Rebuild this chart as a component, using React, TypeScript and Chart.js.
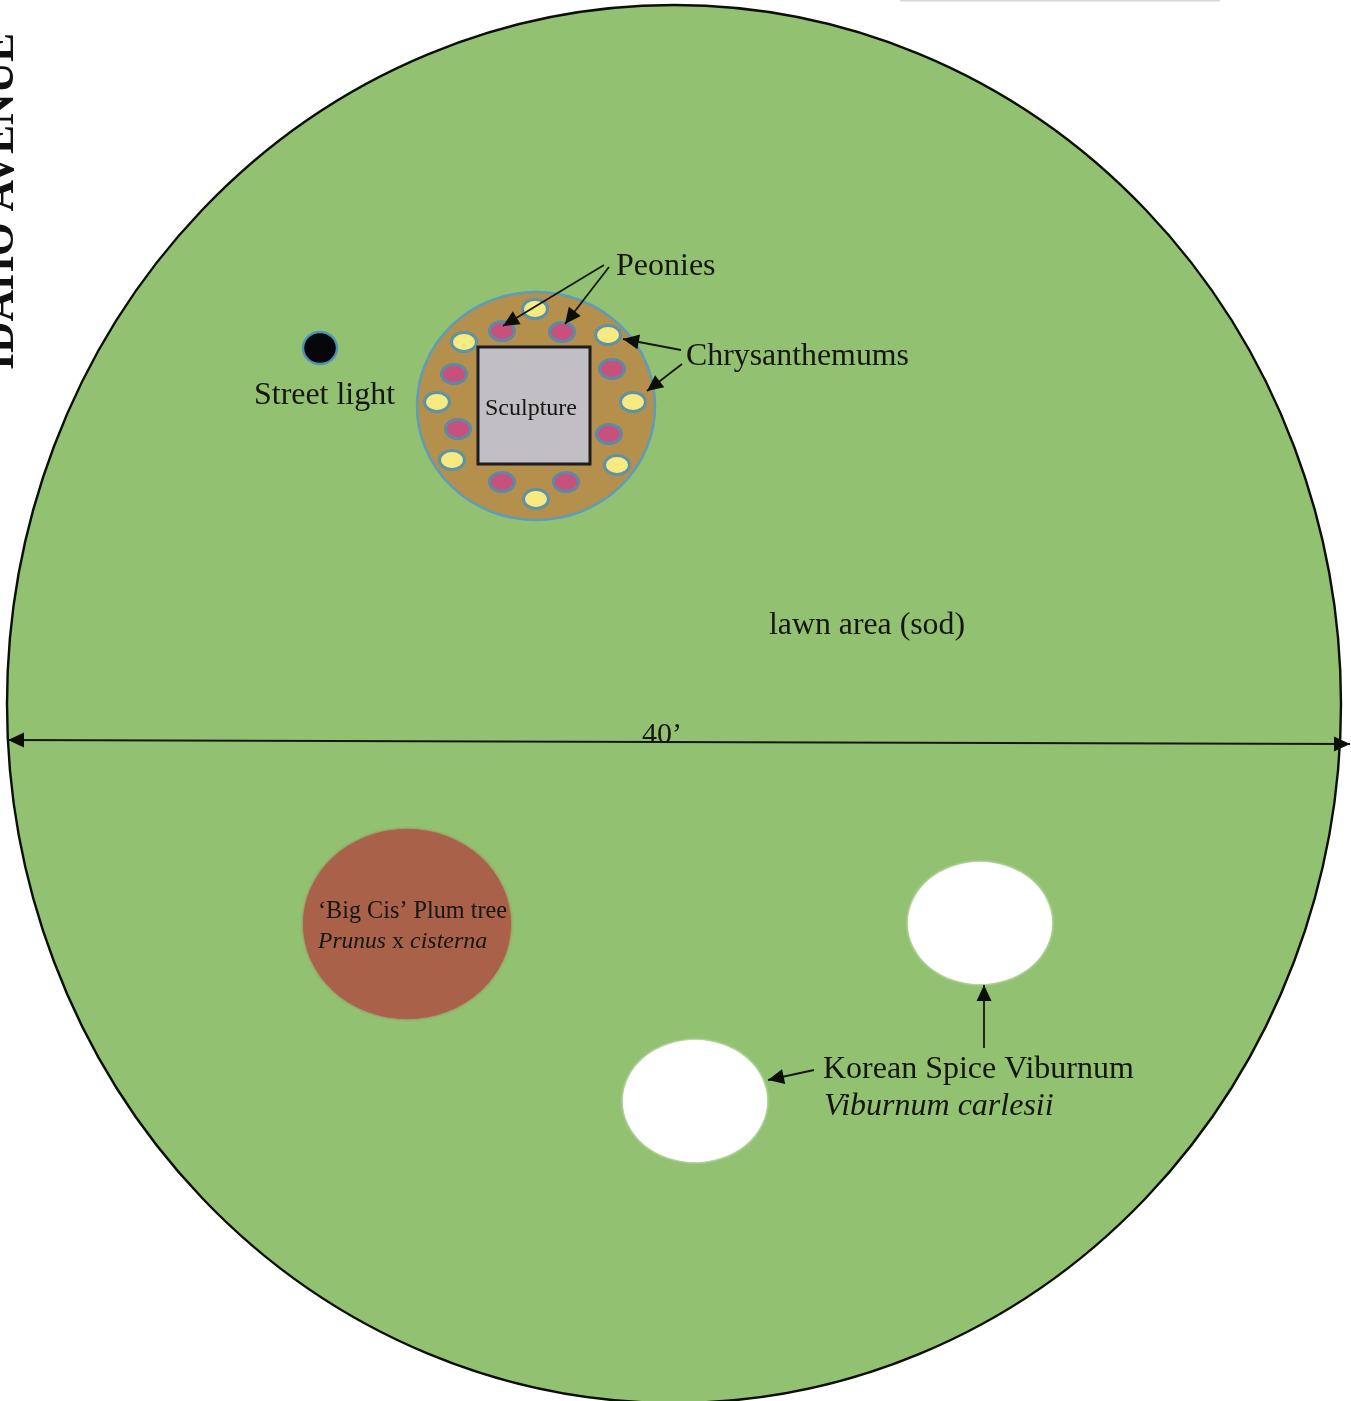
import React, { useEffect, useRef } from "react";
import { Chart, registerables } from "chart.js";

Chart.register(...registerables);

const W = 1351;
const H = 1401;

// ellipses: centre and radii, in picture units
const lawnX = [674], lawnY = [704], lawnRx = [667], lawnRy = [699];
const bedX = [536], bedY = [406], bedRx = [119], bedRy = [114];
const chrysanthemumX = [535, 608, 633, 617, 536, 452, 437, 464];
const chrysanthemumY = [309, 335, 402, 465, 499, 460, 402, 342];
const peonyX = [502, 562, 612, 609, 566, 502, 458, 454];
const peonyY = [331, 332, 369, 434, 482, 482, 429, 374];
const lightX = [320], lightY = [348], lightRx = [17], lightRy = [16];
const plumX = [407], plumY = [924], plumRx = [104], plumRy = [95];
const viburnumX = [980, 695], viburnumY = [923, 1101], viburnumRx = [72, 72], viburnumRy = [61, 61];

// sculpture rectangle corners
const sculptureX = [478, 590];
const sculptureY = [347, 464];

// arrows: from -> to
const arrowFromX = [604, 609, 681, 682, 814, 984, 660];
const arrowFromY = [265, 267, 350, 364, 1070, 1048, 742];
const arrowToX = [503, 565, 623, 647, 768, 984, 8];
const arrowToY = [326, 324, 339, 391, 1080, 985, 740];
const diameterFromX = [660];
const diameterFromY = [742];
const diameterToX = [1350];
const diameterToY = [744];

// faint scan remnant along the top edge
const topEdgeX = [900, 1220];
const topEdgeY = [0.5, 0.5];

// labels
const labelText = ["Peonies", "Chrysanthemums", "Street light", "Sculpture", "lawn area (sod)", "40’", "‘Big Cis’ Plum tree", "Prunus", "x", "cisterna", "Korean Spice Viburnum", "Viburnum carlesii"];
const labelX = [616, 686, 254, 485, 769, 642, 318, 318, 392, 410, 823, 824];
const labelY = [275, 365, 404, 415, 634, 743, 918, 948, 948, 948, 1078, 1115];
const labelWidth = [100, 223, 141, 92, 196, 41, 189, 68, 12, 78, 312, 231];
const labelSize = [32, 32, 32, 24, 32, 30, 25, 24, 24, 24, 32, 32];
const labelItalic = [false, false, false, false, false, false, false, true, false, true, false, true];
const streetName = "IDAHO AVENUE";

function ellipseSet(label: string, xs: number[], ys: number[], rx: number | number[], ry: number | number[], fill: string, stroke: string | null, lw: number, glow = 0) {
  return {
    type: "scatter" as const,
    label,
    kind: "ellipse",
    data: xs.map((x, i) => ({ x, y: ys[i] })),
    rx, ry, fill, stroke, lw, glow,
    pointRadius: 0,
    showLine: false,
  };
}

function arrowSet(fromX: number, fromY: number, toX: number, toY: number) {
  return {
    type: "line" as const,
    label: "arrow",
    kind: "arrow",
    data: [{ x: fromX, y: fromY }, { x: toX, y: toY }],
    borderColor: "#14180f",
    borderWidth: 1.8,
    pointRadius: 0,
    fill: false,
    tension: 0,
  };
}

const paintPlugin = {
  id: "paint",
  beforeDatasetsDraw(chart: any) {
    const { ctx, scales } = chart;
    const sx = scales.x, sy = scales.y;
    chart.data.datasets.forEach((ds: any) => {
      if (ds.kind === "ellipse") {
        ds.data.forEach((p: any, i: number) => {
          const rx = Array.isArray(ds.rx) ? ds.rx[i] : ds.rx;
          const ry = Array.isArray(ds.ry) ? ds.ry[i] : ds.ry;
          const cx = sx.getPixelForValue(p.x), cy = sy.getPixelForValue(p.y);
          ctx.save();
          ctx.beginPath();
          ctx.ellipse(cx, cy, Math.abs(sx.getPixelForValue(p.x + rx) - cx), Math.abs(sy.getPixelForValue(p.y + ry) - cy), 0, 0, Math.PI * 2);
          if (ds.glow) { ctx.shadowColor = ds.fill; ctx.shadowBlur = ds.glow; }
          ctx.fillStyle = ds.fill;
          ctx.fill();
          ctx.shadowBlur = 0;
          if (ds.stroke) { ctx.strokeStyle = ds.stroke; ctx.lineWidth = ds.lw; ctx.stroke(); }
          ctx.restore();
        });
      }
      if (ds.kind === "rect") {
        const x0 = sx.getPixelForValue(ds.data[0].x), y0 = sy.getPixelForValue(ds.data[0].y);
        const x1 = sx.getPixelForValue(ds.data[1].x), y1 = sy.getPixelForValue(ds.data[1].y);
        ctx.save();
        ctx.fillStyle = ds.fill;
        ctx.strokeStyle = ds.stroke;
        ctx.lineWidth = ds.lw;
        ctx.fillRect(x0, y0, x1 - x0, y1 - y0);
        ctx.strokeRect(x0, y0, x1 - x0, y1 - y0);
        ctx.restore();
      }
    });
  },
  afterDatasetsDraw(chart: any) {
    const { ctx, scales } = chart;
    const sx = scales.x, sy = scales.y;
    ctx.save();
    chart.data.datasets.forEach((ds: any) => {
      if (ds.kind !== "arrow") return;
      const a = ds.data[0], b = ds.data[1];
      const ax = sx.getPixelForValue(a.x), ay = sy.getPixelForValue(a.y);
      const bx = sx.getPixelForValue(b.x), by = sy.getPixelForValue(b.y);
      const t = Math.atan2(by - ay, bx - ax);
      const len = 16, half = 7.5;
      ctx.fillStyle = "#0c0f08";
      ctx.beginPath();
      ctx.moveTo(bx, by);
      ctx.lineTo(bx - len * Math.cos(t) - half * Math.sin(t), by - len * Math.sin(t) + half * Math.cos(t));
      ctx.lineTo(bx - len * Math.cos(t) + half * Math.sin(t), by - len * Math.sin(t) - half * Math.cos(t));
      ctx.closePath();
      ctx.fill();
    });
    ctx.textBaseline = "alphabetic";
    ctx.textAlign = "left";
    ctx.fillStyle = "#14160f";
    labelText.forEach((text, i) => {
      ctx.font = `${labelItalic[i] ? "italic " : ""}${labelSize[i]}px "Liberation Serif"`;
      ctx.fillText(text, sx.getPixelForValue(labelX[i]), sy.getPixelForValue(labelY[i]), labelWidth[i]);
    });
    ctx.save();
    ctx.translate(sx.getPixelForValue(13), sy.getPixelForValue(370));
    ctx.rotate(-Math.PI / 2);
    ctx.font = 'bold 44px "Liberation Serif"';
    ctx.fillStyle = "#111";
    ctx.fillText(streetName, 0, 0, 337);
    ctx.restore();
    ctx.restore();
  },
};

export default function App() {
  const ref = useRef<HTMLCanvasElement>(null);
  useEffect(() => {
    document.body.style.margin = "0";
    document.body.style.background = "#ffffff";
    const datasets: any[] = [
      ellipseSet("lawn area (sod)", lawnX, lawnY, lawnRx, lawnRy, "#92c172", "#0c0f08", 2.4),
      ellipseSet("bed", bedX, bedY, bedRx, bedRy, "#b58f4c", "#5e9cb8", 2.5),
      ellipseSet("Chrysanthemums", chrysanthemumX, chrysanthemumY, 12.5, 9.5, "#f8ea80", "#5e93a6", 3),
      ellipseSet("Peonies", peonyX, peonyY, 12.5, 9.5, "#c8507c", "#5e8aa6", 3),
      ellipseSet("Street light", lightX, lightY, lightRx, lightRy, "#05060a", "#4f92b8", 2.5),
      ellipseSet("Plum tree", plumX, plumY, plumRx, plumRy, "#a9614a", null, 0, 3),
      ellipseSet("Korean Spice Viburnum", viburnumX, viburnumY, viburnumRx, viburnumRy, "#ffffff", null, 0, 3),
      {
        type: "scatter", label: "Sculpture", kind: "rect",
        data: sculptureX.map((x, i) => ({ x, y: sculptureY[i] })),
        fill: "#c1bec4", stroke: "#1d1c1e", lw: 3, pointRadius: 0, showLine: false,
      },
      {
        type: "line", label: "top edge",
        data: topEdgeX.map((x, i) => ({ x, y: topEdgeY[i] })),
        borderColor: "#d8d8d8", borderWidth: 2, pointRadius: 0, fill: false,
      },
      ...arrowFromX.map((x, i) => arrowSet(x, arrowFromY[i], arrowToX[i], arrowToY[i])),
      ...diameterFromX.map((x, i) => arrowSet(x, diameterFromY[i], diameterToX[i], diameterToY[i])),
    ];
    const chart = new Chart(ref.current as HTMLCanvasElement, {
      type: "scatter",
      data: { datasets },
      plugins: [paintPlugin],
      options: {
        animation: false,
        responsive: false,
        devicePixelRatio: 1,
        layout: { padding: 0 },
        clip: false,
        plugins: { legend: { display: false }, tooltip: { enabled: false }, title: { display: false } },
        scales: {
          x: { type: "linear", min: 0, max: W, display: false },
          y: { type: "linear", min: 0, max: H, reverse: true, display: false },
        },
      },
    } as any);
    return () => chart.destroy();
  }, []);
  return (
    <div style={{ position: "absolute", left: 0, top: 0, width: W, height: H, overflow: "hidden" }}>
      <canvas ref={ref} width={W} height={H} style={{ display: "block", width: W, height: H, filter: "blur(0.5px)" }} />
    </div>
  );
}
